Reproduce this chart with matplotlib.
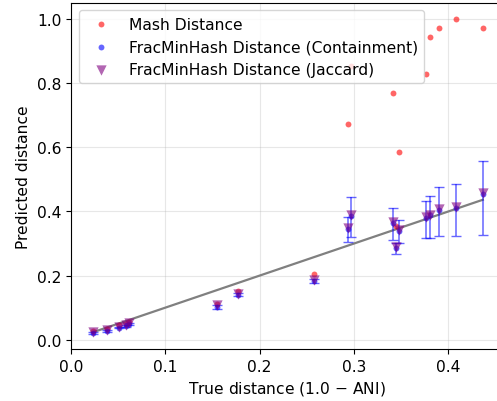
import numpy as np
import matplotlib
matplotlib.use("Agg")
import matplotlib.pyplot as plt

# true distance (1 - ANI) for each genome pair
true_dist = [0.023, 0.038, 0.051, 0.058, 0.062, 0.155, 0.177, 0.258, 0.294, 0.297,
             0.341, 0.345, 0.348, 0.376, 0.381, 0.390, 0.408, 0.4366]

mash_dist = [0.027, 0.033, 0.045, 0.050, 0.055, 0.112, 0.152, 0.205, 0.673, 0.854,
             0.770, 0.354, 0.586, 0.829, 0.944, 0.973, 1.0, 0.973]

fmh_containment = [0.022, 0.028, 0.038, 0.044, 0.048, 0.102, 0.140, 0.183, 0.345, 0.385,
                   0.364, 0.286, 0.340, 0.380, 0.388, 0.406, 0.411, 0.454]
cont_low = [0.019, 0.025, 0.035, 0.041, 0.045, 0.097, 0.135, 0.178, 0.304, 0.320,
            0.312, 0.267, 0.302, 0.317, 0.317, 0.323, 0.323, 0.327]
cont_high = [0.025, 0.031, 0.041, 0.047, 0.051, 0.107, 0.145, 0.188, 0.382, 0.444,
             0.410, 0.302, 0.374, 0.434, 0.449, 0.477, 0.487, 0.557]

fmh_jaccard = [0.025, 0.030, 0.041, 0.047, 0.051, 0.108, 0.143, 0.186, 0.348, 0.389,
               0.366, 0.288, 0.342, 0.382, 0.390, 0.408, 0.413, 0.457]

plt.rcParams["font.size"] = 11.2

fig = plt.figure(figsize=(4.97, 4.02), dpi=100)
ax = fig.add_axes([71 / 497, 52 / 402, 432 / 497, 346.5 / 402])

x = np.array(true_dist)
c = np.array(fmh_containment)
yerr = [c - np.array(cont_low), np.array(cont_high) - c]

ax.scatter(x, mash_dist, s=18, color="red", alpha=0.6, linewidths=0,
           label="Mash Distance", zorder=3)
ax.errorbar(x, c, yerr=yerr, fmt="none", ecolor="blue", alpha=0.6,
            elinewidth=1.1, capsize=3.5, zorder=3)
ax.scatter(x, c, s=18, color="blue", alpha=0.6, linewidths=0,
           label="FracMinHash Distance (Containment)", zorder=4)
ax.scatter(x, fmh_jaccard, s=55, marker="v", color="purple", alpha=0.6,
           linewidths=0, label="FracMinHash Distance (Jaccard)", zorder=4)
ax.plot([x.min(), x.max()], [x.min(), x.max()], color="gray", linewidth=1.6,
        zorder=2)

ax.set_xlim(0.0, 0.458)
ax.set_ylim(-0.029, 1.052)
ax.set_xticks([0.0, 0.1, 0.2, 0.3, 0.4])
ax.set_yticks([0.0, 0.2, 0.4, 0.6, 0.8, 1.0])
ax.grid(True, alpha=0.3)
ax.set_xlabel(r"True distance (1.0 $-$ ANI)")
ax.set_ylabel("Predicted distance")
ax.legend(loc="upper left")

fig.savefig("out.png", dpi=100)
